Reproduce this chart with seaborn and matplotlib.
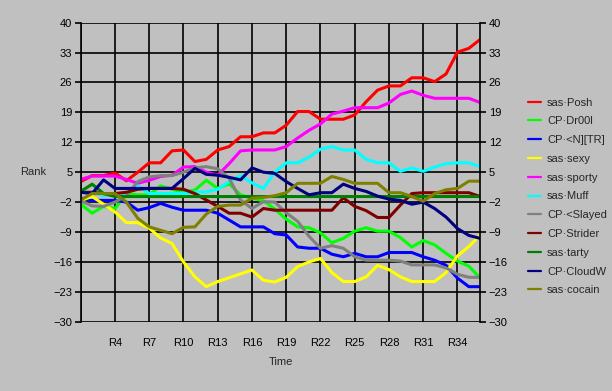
import pandas as pd
import matplotlib
matplotlib.use("Agg")
import matplotlib.pyplot as plt
import seaborn as sns

# ==========================
# Data
# ==========================
rounds = list(range(1, 37))

posh = [2.8, 4.2, 4.2, 4.8, 3.0, 5.0, 7.2, 7.2, 10.0, 10.2, 7.5, 8.0,
        10.2, 11.0, 13.3, 13.3, 14.2, 14.2, 16.0, 19.2, 19.2, 17.4, 17.4, 17.4,
        18.4, 21.5, 24.2, 25.2, 25.2, 27.1, 27.1, 26.2, 28.0, 33.1, 34.0, 36.1]
dr00l = [-2.5, -4.6, -3.0, -3.5, 0.0, -0.3, -0.3, 1.8, 1.0, 0.3, 0.8, 3.1,
         1.2, 2.3, -0.3, -1.1, -1.7, -3.6, -6.0, -7.8, -8.0, -9.2, -11.5, -10.5,
         -8.8, -8.0, -8.8, -8.8, -10.3, -12.5, -11.0, -12.0, -14.0, -15.8, -17.0, -19.8]
ntr = [-1.1, -1.6, -1.6, -1.6, -2.0, -3.9, -3.3, -2.3, -3.2, -3.9, -3.9, -3.9,
       -4.6, -6.2, -7.8, -7.8, -7.8, -9.4, -9.7, -12.5, -12.8, -12.8, -14.2, -14.8,
       -14.0, -14.8, -14.8, -13.8, -13.8, -13.8, -14.8, -15.6, -16.8, -19.8, -21.8, -21.8]
sexy = [-1.6, -0.7, -2.5, -4.3, -6.8, -6.8, -8.1, -10.4, -11.7, -16.0, -19.5, -21.8,
        -20.6, -19.7, -18.8, -17.9, -20.3, -20.7, -19.6, -17.1, -16.0, -15.2, -18.5, -20.6,
        -20.6, -19.5, -16.8, -17.8, -19.5, -20.6, -20.6, -20.6, -18.5, -14.6, -12.4, -9.7]
sporty = [3.3, 4.1, 4.1, 4.1, 3.3, 2.4, 3.1, 4.0, 4.3, 6.2, 6.3, 5.0,
          4.3, 7.0, 10.0, 10.2, 10.2, 10.2, 11.0, 13.0, 14.8, 16.3, 18.6, 19.3,
          20.1, 20.1, 20.1, 21.2, 23.2, 24.0, 23.0, 22.3, 22.3, 22.3, 22.3, 21.3]
muff = [0.3, 0.3, -0.5, -0.3, 0.0, 1.8, 0.0, 0.0, 0.0, 0.0, 0.3, 0.4,
        1.0, 2.8, 4.2, 2.5, 1.2, 5.0, 7.2, 7.2, 8.5, 10.4, 11.0, 10.2,
        10.2, 8.0, 7.2, 7.2, 5.2, 6.0, 5.2, 6.2, 7.0, 7.2, 7.2, 6.3]
slayed = [-1.7, -2.9, -3.0, -2.0, -0.5, 2.8, 3.9, 4.2, 4.2, 5.0, 6.0, 6.3,
          5.8, 3.6, -1.5, -3.5, -1.9, -2.0, -4.5, -6.5, -10.0, -12.8, -12.2, -12.8,
          -14.8, -15.6, -15.6, -15.6, -15.8, -16.7, -16.7, -16.7, -17.4, -18.9, -19.6, -19.6]
strider = [0.3, 0.3, 0.0, 0.0, 0.3, 1.0, 1.2, 1.2, 1.2, 1.0, 0.0, -1.5,
           -3.0, -4.6, -4.6, -5.5, -3.5, -3.9, -3.9, -3.9, -3.9, -3.9, -3.9, -1.0,
           -3.0, -4.0, -5.6, -5.6, -2.7, 0.0, 0.2, 0.2, 0.2, 0.2, 0.2, -0.7]
tarty = [0.5, 2.2, 0.0, -0.7, -0.7, -0.7, -0.7, -0.7, -0.7, -0.7, -0.7, -0.7,
         -0.7, -0.7, -0.7, -0.7, -0.7, -0.7, -0.7, -0.7, -0.7, -0.7, -0.7, -0.7,
         -0.7, -0.7, -0.7, -0.7, -0.7, -0.7, -0.7, -0.7, -0.7, -0.7, -0.7, -0.7]
cloudw = [0.3, 0.0, 3.2, 1.2, 1.2, 1.2, 1.2, 1.2, 1.2, 3.5, 5.9, 4.5,
          4.3, 3.8, 3.2, 6.0, 5.0, 4.7, 2.8, 1.2, -0.3, 0.2, 0.2, 2.2,
          1.2, 0.5, -0.6, -1.3, -1.6, -2.5, -2.0, -3.5, -5.5, -8.2, -9.8, -10.5]
cocain = [-1.5, 0.0, 0.0, 0.0, -2.0, -5.8, -7.8, -8.6, -9.4, -7.9, -7.8, -4.8,
          -3.0, -2.7, -2.7, -1.1, -0.9, -0.5, 0.2, 2.4, 2.4, 2.4, 4.0, 3.3,
          2.4, 2.4, 2.4, 0.2, 0.2, -0.7, -1.8, 0.0, 0.9, 1.2, 2.9, 2.9]

players = ["sas·Posh", "CP·Dr00l", "CP·<N][TR]", "sas·sexy", "sas·sporty", "sas·Muff",
           "CP·<Slayed", "CP·Strider", "sas·tarty", "CP·CloudW", "sas·cocain"]
colors = ["#ff0000", "#00ff00", "#0000ff", "#ffff00", "#ff00ff", "#00ffff",
          "#808080", "#800000", "#008000", "#000080", "#808000"]
series = [posh, dr00l, ntr, sexy, sporty, muff, slayed, strider, tarty, cloudw, cocain]

tick_rounds = [1, 4, 7, 10, 13, 16, 19, 22, 25, 28, 31, 34]
tick_labels = ["", "R4", "R7", "R10", "R13", "R16", "R19", "R22", "R25", "R28", "R31", "R34"]
y_ticks = [-30, -23, -16, -9, -2, 5, 12, 19, 26, 33, 40]

rows = []
for name, vals in zip(players, series):
    for r, v in zip(rounds, vals):
        rows.append({"Round": r, "Rank": v, "Player": name})
df = pd.DataFrame(rows)

# ==========================
# Plot
# ==========================
sns.set_style("white")
plt.rcParams["font.family"] = ["Liberation Sans", "DejaVu Sans"]

bg = "#c0c0c0"
fig = plt.figure(figsize=(6.12, 3.91), dpi=100, facecolor=bg)
ax = fig.add_axes([0.1319, 0.1772, 0.6529, 0.7648])
ax.set_facecolor(bg)

sns.lineplot(
    data=df, x="Round", y="Rank", hue="Player",
    hue_order=players, palette=dict(zip(players, colors)),
    linewidth=2.2, ax=ax
)

handles, labels = ax.get_legend_handles_labels()
ax.get_legend().remove()

ax.set_xlim(1, 36)
ax.set_ylim(-30, 40)
ax.set_xticks(tick_rounds)
ax.set_xticklabels(tick_labels)
ax.set_yticks(y_ticks)

ax.grid(True, color="black", linewidth=1.2)
ax.set_axisbelow(True)
for side in ["left", "right"]:
    ax.spines[side].set_color("black")
    ax.spines[side].set_linewidth(1.2)
for side in ["top", "bottom"]:
    ax.spines[side].set_visible(False)

ax.tick_params(axis="both", which="both", direction="out", length=4, width=1.2,
               color="black", labelsize=8, labelcolor="black")
ax.tick_params(axis="y", right=True, labelright=True, left=True, pad=2)
ax.tick_params(axis="x", pad=8)

ax.set_xlabel("Time", fontsize=8, labelpad=6)
ax.set_ylabel("Rank", fontsize=8, rotation=0, ha="center", va="center")
ax.yaxis.set_label_coords(-0.12, 0.5)

leg = fig.legend(
    handles, labels, loc="upper left", bbox_to_anchor=(0.855, 0.762),
    frameon=False, fontsize=8, handlelength=1.2, handletextpad=0.55,
    labelspacing=0.79, borderaxespad=0
)
for line in leg.get_lines():
    line.set_linewidth(1.6)

plt.savefig("out.png", dpi=100, facecolor=bg)
plt.close()
